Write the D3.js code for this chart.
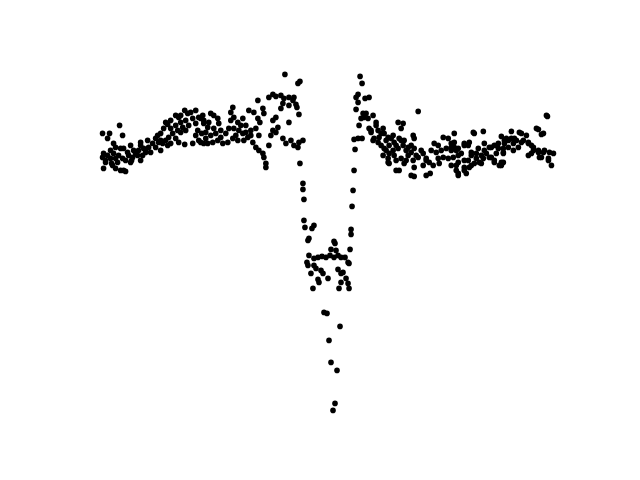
<!DOCTYPE html>
<html><head><meta charset="utf-8">
<script src="https://cdn.jsdelivr.net/npm/d3@7"></script>
<style>html,body{margin:0;padding:0;background:#fff}</style>
</head><body>
<svg id="chart" width="640" height="480"></svg>
<script>
// Left (pre-dip) segment: [time, flux]
const preData = [
[19,285],[2,277],[9,277],[7,272],[22,275],[13,267],[15,263],[3,257],[7,255],[10,252],[5,248],[13,257],[18,255],[22,252],[17,248],[12,245],[3,242],[15,242],[20,240],[25,239],
[23,262],[27,258],[28,255],[32,253],[30,248],[35,257],[38,260],[42,255],[45,260],[48,263],[52,267],[50,258],[55,263],[58,268],[62,267],[65,270],[68,273],[67,265],[72,277],[75,272],
[77,280],[80,278],[82,283],[85,290],[88,285],[87,297],[84,300],[92,292],[95,287],[98,293],[102,295],[103,290],[97,280],[101,277],[103,267],[84,266],[67,286],[75,295],[78,293],
[40,265],[57,275],[70,282],[80,288],[95,275],[60,260],
[40,268],[47,270],[55,272],[60,277],[63,282],[65,288],[70,290],[75,285],[80,295],[90,298],[95,300],[60,270],[70,267],[78,268],[92,267],[98,270],[108,288],[85,280],
[10,260],[15,252],[25,250],[20,262],[30,265],[37,255],[40,250],[33,260],[43,262],[5,250],[2,253],[11,247],[23,240],[31,250],[45,258],
[184,336],[199,329],[197,327],[172,316],[175,314],[180,315],[183,312],[188,313],[168,313],[192,310],[157,310],[182,307],[180,302],[188,305],[198,296],[132,303],[130,298],[148,300],[153,298],
[162,302],[163,297],[175,293],[172,290],[157,292],[159,288],[188,288],[110,297],[113,295],[117,292],[100,292],[103,287],[107,283],[105,278],[113,282],[118,287],[120,280],[130,290],[133,293],
[137,288],[142,292],[133,282],[138,280],[142,277],[145,278],[147,273],[150,275],[143,270],[100,268],[107,267],[112,268],[117,270],[122,267],[127,268],[132,272],[137,270],[152,268],[155,263],
[158,260],[162,257],[163,253],[165,247],[165,243],[168,265],[172,280],[175,278],[177,283],[182,272],[185,267],[190,270],[193,265],[198,268],[199,247],[170,275],
[105,272],[110,275],[115,277],[120,273],[125,277],[128,282],[135,275],[140,285],[145,285],[150,280],[155,282],[158,275],
[193,313],[195,306],[196,303],[197,263],[202,270]
];
// Dip segment
const dipData = [
[202,227],[202,221],[203,211],[203,190],[204,183],[211,182],[213,185],[207,170],[208,172],[233,169],[234,167],[230,161],[235,160],[249,161],
[208,155],[213,152],[217,153],[221,154],[225,153],[229,155],[233,153],[237,155],[240,153],[244,153],[206,148],[207,145],[213,145],[247,148],[248,147],
[210,137],[215,142],[220,140],[222,137],[237,141],[242,138],[240,137],[217,131],[218,128],[227,132],[240,128],[245,132],[247,127],[212,122],[238,122],[248,122],
[223,98],[226,97],[239,84],[228,70],[230,48],[236,40],[234,7],[232,0],
[250,181],[250,176],[251,204],[252,220],[253,240],[254,261]
];
// Right (post-dip) segment
const postData = [
[259,334],[261,327],[257,316],[264,312],[268,313],[257,308],[255,301],[262,297],[265,297],[263,293],[260,292],[267,292],[270,280],[258,285],[253,271],[257,272],[261,272],
[255,313],[272,295],[275,288],[317,299],[297,288],[302,287],[300,282],[268,282],[270,278],[277,280],[282,282],[283,277],[273,272],[277,268],[287,273],[290,272],[293,268],[298,272],
[303,270],[312,275],[313,272],[280,265],[283,262],[288,265],[292,260],[297,262],[302,265],[307,263],[310,258],[313,262],[282,255],[287,252],[293,255],[300,252],[307,255],[312,250],
[317,253],[322,257],[325,252],[328,248],[288,247],[303,247],[313,243],[322,245],[330,260],[333,267],[337,265],[342,273],[347,272],[350,267],[353,268],[335,258],[340,260],[345,262],
[350,260],[357,262],[337,252],[342,253],[347,252],[352,253],[357,255],[332,245],[338,247],[350,245],[357,248],[298,240],[313,234],[329,237],[357,237],[288,257],
[275,285],[280,277],[285,270],[292,275],[295,265],[300,270],[305,260],[310,265],[315,255],[320,260],[325,250],[305,250],[295,250],[285,260],[278,273],[272,270],[295,240],[310,235],[325,235],[287,248],
[446,294],[353,277],[373,277],[382,279],[410,279],[420,277],[437,281],[440,276],[363,267],[368,268],[367,265],[400,274],[405,272],[410,272],[415,270],[422,270],[427,268],[430,265],
[383,267],[388,263],[393,265],[397,262],[432,260],[437,258],[443,260],[448,258],[452,257],[350,263],[355,260],[370,255],[375,257],[380,255],[385,257],[390,253],[440,253],[447,252],
[450,245],[363,250],[393,250],[400,248],[398,245],[355,240],[363,240],[368,243],[373,247],[378,248],[427,255],[417,263],[412,260],[407,263],[402,262],
[372,278],[353,263],[363,265],[360,257],[370,258],[377,262],[383,260],[390,263],[397,267],[403,270],[367,250],[375,252],[382,252],[388,253],[395,257],[402,258],
[355,245],[363,243],[370,245],[380,247],[393,248],[400,245],[365,237],[357,235],
[445,295],[435,282],[442,277],[418,278],[425,275],[407,270],[413,272],[420,268],[427,267],[432,263],[437,260],[442,258],[430,257],[438,253],[447,250],[412,267],[403,267],[402,257],[402,248]
];

const W = 640, H = 480;
const all = preData.concat(dipData, postData);
const svg = d3.select("#chart");
const mLeft = 80, mRight = 576, mTop = 57.6, mBottom = 427.2;

function padded(ext) { const p = (ext[1] - ext[0]) * 0.05; return [ext[0] - p, ext[1] + p]; }
const x = d3.scaleLinear().domain(padded(d3.extent(all, d => d[0]))).range([mLeft, mRight]);
const y = d3.scaleLinear().domain(padded(d3.extent(all, d => d[1]))).range([mBottom, mTop]);

svg.append("rect").attr("width", W).attr("height", H).attr("fill", "#fff");
svg.append("g").selectAll("circle").data(all).join("circle")
  .attr("cx", d => x(d[0])).attr("cy", d => y(d[1])).attr("r", 2.8)
  .attr("fill", "#000");
</script>
</body></html>
